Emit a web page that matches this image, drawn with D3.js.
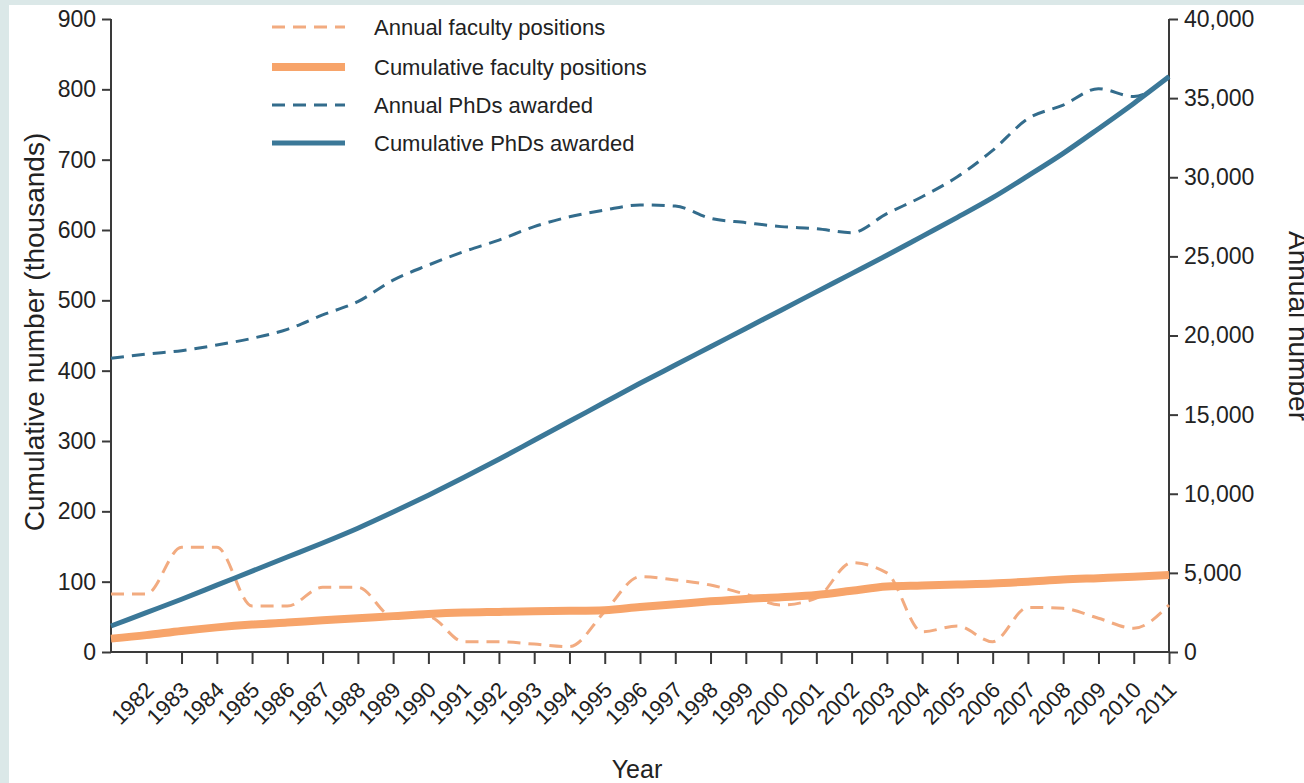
<!DOCTYPE html>
<html lang="en">
<head>
  <meta charset="UTF-8">
  <title>PhDs awarded vs faculty positions</title>
  <script src="https://d3js.org/d3.v7.min.js"></script>
  <style>
    body { margin: 0; background: #fff; font-family: "Liberation Sans", Arial, sans-serif; }
    svg text { fill: #222; }
    .axis path, .axis line { stroke: #3a3a3a; stroke-width: 2; }
    .axis text { font-size: 23px; font-family: "Liberation Sans", Arial, sans-serif; }
    .axis.years text { font-size: 22px; }
  </style>
</head>
<body>
  <svg id="chart" width="1304" height="783"></svg>

  <script>
    // data, one point per year 1981-2011
    const years = d3.range(1981, 2012);

    // thousands (left axis)
    const cumulativePhds = [37, 56, 75, 95, 115, 135, 155, 176, 199, 223, 248, 274, 301, 328, 355,
      382, 408, 434, 460, 486, 512, 538, 564, 591, 618, 646, 677, 709, 744, 780, 818];
    const cumulativeFaculty = [19, 24, 30, 35, 39, 42, 45, 48, 51, 54, 56, 57, 58, 58.5, 59.5,
      64, 68, 72, 75.5, 78, 81, 87, 93, 94.5, 96, 97.5, 100, 103, 105, 107, 109.5];

    // annual counts (right axis)
    const annualPhds = [18560, 18830, 19040, 19400, 19820, 20390, 21300, 22140, 23500, 24450, 25300,
      26030, 26880, 27500, 27930, 28250, 28180, 27400, 27130, 26880, 26750, 26500, 27700, 28770,
      30030, 31700, 33700, 34560, 35600, 35100, 36400];
    const annualFaculty = [3660, 3660, 6620, 6620, 2900, 2900, 4090, 4090, 2230, 2230, 650, 650,
      500, 340, 2550, 4760, 4550, 4230, 3650, 2970, 3400, 5640, 5000, 1280, 1640, 650, 2820,
      2760, 2130, 1500, 2970];

    const leftTicks = d3.range(0, 901, 100);
    const rightTicks = d3.range(0, 40001, 5000);
    const yearTicks = d3.range(1982, 2012);

    const legendItems = [
      { label: "Annual faculty positions", color: "#f2ab80", width: 3, dash: "13,8" },
      { label: "Cumulative faculty positions", color: "#f7a46a", width: 8, dash: null },
      { label: "Annual PhDs awarded", color: "#336c8c", width: 3, dash: "13,8" },
      { label: "Cumulative PhDs awarded", color: "#3b7898", width: 5, dash: null }
    ];

    const svg = d3.select("#chart");

    // faint blue-grey page edges from the source scan
    svg.append("rect").attr("x", 0).attr("y", 0).attr("width", 1304).attr("height", 5).attr("fill", "#dbe8e8");
    svg.append("rect").attr("x", 0).attr("y", 0).attr("width", 9).attr("height", 783).attr("fill", "#dbe8e8");

    const x = d3.scaleLinear().domain([1981, 2011]).range([111, 1169]);
    const yLeft = d3.scaleLinear().domain([0, 900]).range([652, 19]);
    const yRight = d3.scaleLinear().domain([0, 40000]).range([652, 19]);

    // axes
    svg.append("g")
      .attr("class", "axis")
      .attr("transform", "translate(111,0)")
      .call(d3.axisLeft(yLeft).tickValues(leftTicks).tickSize(9).tickPadding(6).tickSizeOuter(0))
      .call(g => g.select(".domain").attr("d", `M0,${yLeft(900)}V${yLeft(0)}`));

    svg.append("g")
      .attr("class", "axis")
      .attr("transform", "translate(1169,0)")
      .call(d3.axisRight(yRight).tickValues(rightTicks).tickFormat(d3.format(",")).tickSize(9).tickPadding(6).tickSizeOuter(0))
      .call(g => g.select(".domain").attr("d", `M0,${yRight(40000)}V${yRight(0)}`));

    svg.append("g")
      .attr("class", "axis years")
      .attr("transform", "translate(0,652)")
      .call(d3.axisBottom(x).tickValues(yearTicks).tickFormat(d3.format("d")).tickSize(12).tickSizeOuter(0))
      .call(g => g.select(".domain").attr("d", `M${x(1981)},0H${x(2011)}`))
      .selectAll("text")
      .attr("x", 0).attr("y", 0).attr("dy", "0.35em")
      .attr("text-anchor", "end")
      .attr("transform", "translate(3,34) rotate(-45)");

    // axis titles
    svg.append("text")
      .attr("transform", "translate(44,332) rotate(-90)")
      .attr("text-anchor", "middle")
      .style("font-size", "28px")
      .text("Cumulative number (thousands)");

    svg.append("text")
      .attr("transform", "translate(1289,326) rotate(90)")
      .attr("text-anchor", "middle")
      .style("font-size", "28px")
      .text("Annual number");

    svg.append("text")
      .attr("x", 637).attr("y", 778)
      .attr("text-anchor", "middle")
      .style("font-size", "25px")
      .text("Year");

    // lines
    const lineLeft = d3.line().x((d, i) => x(years[i])).y(d => yLeft(d)).curve(d3.curveMonotoneX);
    const lineRight = d3.line().x((d, i) => x(years[i])).y(d => yRight(d)).curve(d3.curveMonotoneX);

    const series = [
      { values: annualPhds, line: lineRight, style: legendItems[2] },
      { values: annualFaculty, line: lineRight, style: legendItems[0] },
      { values: cumulativeFaculty, line: lineLeft, style: legendItems[1] },
      { values: cumulativePhds, line: lineLeft, style: legendItems[3] }
    ];

    svg.selectAll(".series")
      .data(series)
      .enter().append("path")
      .attr("class", "series")
      .attr("d", d => d.line(d.values))
      .attr("fill", "none")
      .attr("stroke", d => d.style.color)
      .attr("stroke-width", d => d.style.width)
      .attr("stroke-dasharray", d => d.style.dash)
      .attr("stroke-linejoin", "round");

    // legend
    const legend = svg.append("g").selectAll("g")
      .data(legendItems)
      .enter().append("g")
      .attr("transform", (d, i) => `translate(0,${[27, 67, 105, 143][i]})`);

    legend.append("line")
      .attr("x1", 272).attr("x2", 345)
      .attr("stroke", d => d.color)
      .attr("stroke-width", d => d.width)
      .attr("stroke-dasharray", d => d.dash);

    legend.append("text")
      .attr("x", 374).attr("dy", "0.35em")
      .style("font-size", "22px")
      .text(d => d.label);
  </script>
</body>
</html>
